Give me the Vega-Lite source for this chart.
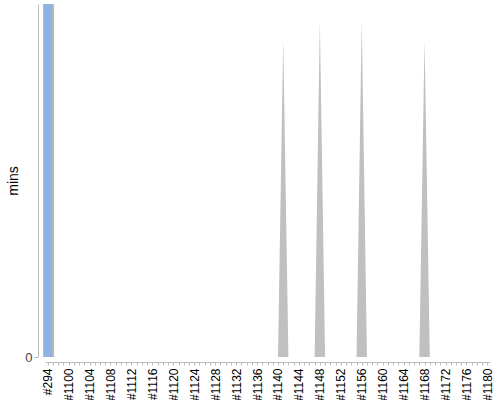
{
  "$schema": "https://vega.github.io/schema/vega-lite/v6.json",
  "width": 454,
  "height": 353,
  "autosize": "none",
  "padding": {"left": 38, "top": 4, "right": 8, "bottom": 43},
  "background": "white",
  "config": {"view": {"stroke": null}, "font": "Liberation Sans"},
  "data": {"values": [
    {"id": "#294", "mins": 0, "bar": 100},
    {"id": "#1097", "mins": 0}, {"id": "#1098", "mins": 0}, {"id": "#1099", "mins": 0},
    {"id": "#1100", "mins": 0}, {"id": "#1101", "mins": 0}, {"id": "#1102", "mins": 0}, {"id": "#1103", "mins": 0},
    {"id": "#1104", "mins": 0}, {"id": "#1105", "mins": 0}, {"id": "#1106", "mins": 0}, {"id": "#1107", "mins": 0},
    {"id": "#1108", "mins": 0}, {"id": "#1109", "mins": 0}, {"id": "#1110", "mins": 0}, {"id": "#1111", "mins": 0},
    {"id": "#1112", "mins": 0}, {"id": "#1113", "mins": 0}, {"id": "#1114", "mins": 0}, {"id": "#1115", "mins": 0},
    {"id": "#1116", "mins": 0}, {"id": "#1117", "mins": 0}, {"id": "#1118", "mins": 0}, {"id": "#1119", "mins": 0},
    {"id": "#1120", "mins": 0}, {"id": "#1121", "mins": 0}, {"id": "#1122", "mins": 0}, {"id": "#1123", "mins": 0},
    {"id": "#1124", "mins": 0}, {"id": "#1125", "mins": 0}, {"id": "#1126", "mins": 0}, {"id": "#1127", "mins": 0},
    {"id": "#1128", "mins": 0}, {"id": "#1129", "mins": 0}, {"id": "#1130", "mins": 0}, {"id": "#1131", "mins": 0},
    {"id": "#1132", "mins": 0}, {"id": "#1133", "mins": 0}, {"id": "#1134", "mins": 0}, {"id": "#1135", "mins": 0},
    {"id": "#1136", "mins": 0}, {"id": "#1137", "mins": 0}, {"id": "#1138", "mins": 0}, {"id": "#1139", "mins": 0},
    {"id": "#1140", "mins": 0}, {"id": "#1141", "mins": 90}, {"id": "#1142", "mins": 0}, {"id": "#1143", "mins": 0},
    {"id": "#1144", "mins": 0}, {"id": "#1145", "mins": 0}, {"id": "#1146", "mins": 0}, {"id": "#1147", "mins": 0},
    {"id": "#1148", "mins": 95.5}, {"id": "#1149", "mins": 0}, {"id": "#1150", "mins": 0}, {"id": "#1151", "mins": 0},
    {"id": "#1152", "mins": 0}, {"id": "#1153", "mins": 0}, {"id": "#1154", "mins": 0}, {"id": "#1155", "mins": 0},
    {"id": "#1156", "mins": 95.5}, {"id": "#1157", "mins": 0}, {"id": "#1158", "mins": 0}, {"id": "#1159", "mins": 0},
    {"id": "#1160", "mins": 0}, {"id": "#1161", "mins": 0}, {"id": "#1162", "mins": 0}, {"id": "#1163", "mins": 0},
    {"id": "#1164", "mins": 0}, {"id": "#1165", "mins": 0}, {"id": "#1166", "mins": 0}, {"id": "#1167", "mins": 0},
    {"id": "#1168", "mins": 90}, {"id": "#1169", "mins": 0}, {"id": "#1170", "mins": 0}, {"id": "#1171", "mins": 0},
    {"id": "#1172", "mins": 0}, {"id": "#1173", "mins": 0}, {"id": "#1174", "mins": 0}, {"id": "#1175", "mins": 0},
    {"id": "#1176", "mins": 0}, {"id": "#1177", "mins": 0}, {"id": "#1178", "mins": 0}, {"id": "#1179", "mins": 0},
    {"id": "#1180", "mins": 0}
  ]},
  "encoding": {
    "x": {
      "field": "id", "type": "ordinal", "sort": null,
      "scale": {"type": "point", "range": [7, 452]},
      "axis": {
        "title": null, "offset": 5, "labelAngle": -90, "labelFontSize": 12, "labelColor": "#000",
        "labelPadding": 3, "labelOverlap": false, "labelFlush": false,
        "labelExpr": "datum.value == '#294' || toNumber(slice(datum.value, 1)) % 4 == 0 ? datum.value : ''",
        "domainColor": "#bbb", "tickColor": "#bbb", "tickSize": 3
      }
    }
  },
  "layer": [
    {
      "mark": {"type": "area", "color": "#c0c0c0", "interpolate": "linear"},
      "encoding": {
        "y": {
          "field": "mins", "type": "quantitative",
          "scale": {"domain": [0, 100], "nice": false},
          "axis": {
            "title": "mins", "titleFontSize": 14, "titleFontWeight": "normal", "titleColor": "#000",
            "titlePadding": 4, "values": [0], "labelFontSize": 13, "labelColor": "#444",
            "domainColor": "#bbb", "tickColor": "#bbb", "tickSize": 4, "grid": false
          }
        }
      }
    },
    {
      "mark": {"type": "bar", "color": "#b8b8b8", "width": 9, "xOffset": 2},
      "encoding": {"y": {"field": "bar", "type": "quantitative"}}
    },
    {
      "mark": {"type": "bar", "color": "#8db3e2", "width": 9},
      "encoding": {"y": {"field": "bar", "type": "quantitative"}}
    }
  ]
}
